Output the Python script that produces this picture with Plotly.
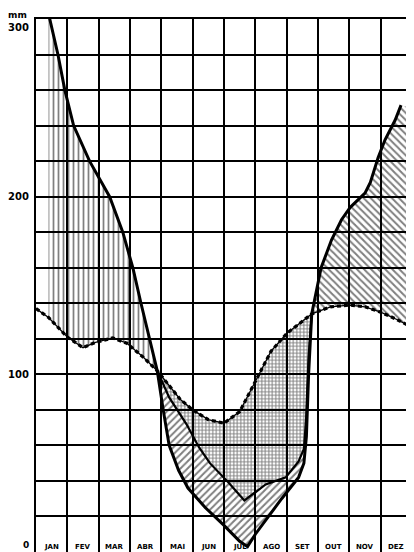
import plotly.graph_objects as go

# Month labels (Portuguese) and y-axis labels
months = ["JAN", "FEV", "MAR", "ABR", "MAI", "JUN", "JUL", "AGO", "SET", "OUT", "NOV", "DEZ"]
y_labels = [0, 100, 200, 300]

# Precipitation (thick solid line), x in months from start of January, y in mm
precip_x = [0.4, 0.44, 0.7, 0.92, 1.2, 1.71, 2.35, 2.77, 3.09, 3.35, 3.62, 3.87, 4.06, 4.25, 4.55,
            4.85, 5.4, 6.0, 6.5, 6.75, 7.0, 7.33, 7.84, 8.38, 8.55, 8.63, 8.7, 8.8, 8.96, 9.1,
            9.43, 9.75, 10.03, 10.5, 10.67, 10.92, 11.14, 11.46, 11.65]
precip_y = [303, 300, 280, 260, 240, 220, 200, 180, 160, 140, 120, 102, 80, 60, 46,
            36, 25, 15, 6, 3, 10, 18, 30, 42, 50, 65, 100, 134, 149, 160,
            175.6, 187, 194, 202, 208, 222, 232, 243, 251.5]

# Potential evapotranspiration (dashed line)
pet_x = [0, 0.4, 1.0, 1.5, 1.9, 2.45, 2.9, 3.4, 3.87, 4.25, 4.6, 5.0, 5.5, 6.0, 6.5, 7.0,
         7.5, 8.0, 8.5, 8.8, 9.4, 10.0, 10.5, 11.0, 11.5, 12.0]
pet_y = [137, 132, 121, 115, 118, 120.5, 117.5, 110, 102, 94, 86, 80, 74.5, 72.5, 79, 96,
         113, 123, 130, 134, 138, 139, 138, 135, 131, 126.5]

# Actual evapotranspiration (solid line)
aet_x = [3.87, 4.25, 4.8, 5.2, 5.55, 6.15, 6.65, 7.33, 7.97, 8.38, 8.55, 8.62, 8.7, 8.8]
aet_y = [102, 87, 72, 59, 50, 39, 29, 38, 42, 51, 58, 75, 110, 134]

# Where the recharge hatching meets the right edge in December
recharge_edge = (12.0, 250)


def seg(xs, ys, a, b):
    pts = [(x, y) for x, y in zip(xs, ys) if a - 1e-9 <= x <= b + 1e-9]
    return [p[0] for p in pts], [p[1] for p in pts]


def poly(upper, lower):
    ux, uy = upper
    lx, ly = lower
    return ux + lx[::-1], uy + ly[::-1]


fig = go.Figure()


def add_fill(px, py, shape, size, solidity):
    fig.add_trace(go.Scatter(
        x=px, y=py, mode="lines", fill="toself",
        line=dict(width=0, color="rgba(0,0,0,0)"),
        fillcolor="rgba(0,0,0,0)",
        fillpattern=dict(shape=shape, size=size, solidity=solidity,
                         fgcolor="black", bgcolor="rgba(0,0,0,0)"),
        hoverinfo="skip"))


# surplus: vertical hatching between precipitation and PET (Jan–Apr)
sx, sy = poly(seg(precip_x, precip_y, 0.4, 3.87), seg(pet_x, pet_y, 0.4, 3.87))
add_fill(sx, sy, "|", 5, 0.35)

# soil water utilization: between AET and precipitation
ux, uy = poly(seg(aet_x, aet_y, 3.87, 8.8), seg(precip_x, precip_y, 3.87, 8.8))
add_fill(ux, uy, "/", 5, 0.4)

# deficit: between PET and AET
dx, dy = poly(seg(pet_x, pet_y, 3.87, 8.8), seg(aet_x, aet_y, 3.87, 8.8))
add_fill(dx, dy, "+", 3.5, 0.5)

# recharge: between precipitation and PET (Set–Dez)
rpx, rpy = seg(precip_x, precip_y, 8.8, 12)
rpx = rpx + [recharge_edge[0]]
rpy = rpy + [recharge_edge[1]]
rx, ry = poly((rpx, rpy), seg(pet_x, pet_y, 8.8, 12))
add_fill(rx, ry, "\\", 5, 0.4)

# lines
fig.add_trace(go.Scatter(x=pet_x, y=pet_y, mode="lines",
                         line=dict(color="black", width=1.3), hoverinfo="skip"))
fig.add_trace(go.Scatter(x=pet_x, y=pet_y, mode="lines",
                         line=dict(color="black", width=3.2, dash="4px,3px"), hoverinfo="skip"))
fig.add_trace(go.Scatter(x=aet_x, y=aet_y, mode="lines",
                         line=dict(color="black", width=2.2), hoverinfo="skip"))
fig.add_trace(go.Scatter(x=precip_x, y=precip_y, mode="lines",
                         line=dict(color="black", width=3), hoverinfo="skip"))

annotations = []
for i, m in enumerate(months):
    annotations.append(dict(x=i + 0.5, y=2.6, xref="x", yref="y", text="<b>" + m + "</b>",
                            showarrow=False,
                            font=dict(family="DejaVu Sans", size=7, color="black"),
                            yanchor="middle", xanchor="center"))
label_y = {300: 295, 200: 200, 100: 100}
for v in y_labels:
    if v == 0:
        annotations.append(dict(x=-5 / 378, y=0, xref="paper", yref="paper",
                                text="<b>0</b>", showarrow=False,
                                xanchor="right", yanchor="bottom",
                                font=dict(family="DejaVu Sans", size=9, color="black")))
        continue
    annotations.append(dict(x=-5 / 378, y=label_y[v] / 300, xref="paper", yref="paper",
                            text="<b>" + str(v) + "</b>",
                            showarrow=False, xanchor="right", yanchor="middle",
                            font=dict(family="DejaVu Sans", size=10, color="black")))
annotations.append(dict(x=-7 / 378, y=1 + 4 / 533, xref="paper", yref="paper",
                        text="<b>mm</b>",
                        showarrow=False, xanchor="right", yanchor="middle",
                        font=dict(family="DejaVu Sans", size=9, color="black")))

# the page body has an 8px margin, so the figure is sized/offset to compensate
fig.update_layout(
    width=406, height=544,
    margin=dict(l=28, r=0, t=11, b=0),
    plot_bgcolor="white", paper_bgcolor="white",
    showlegend=False,
    annotations=annotations,
    xaxis=dict(range=[0, 12], tick0=0, dtick=1, showgrid=True, gridcolor="black",
               gridwidth=1.5, showticklabels=False, zeroline=False, showline=True,
               linecolor="black", linewidth=2, mirror=True, fixedrange=True),
    yaxis=dict(range=[0, 300], tick0=0, dtick=20, showgrid=True, gridcolor="black",
               gridwidth=1.5, showticklabels=False, zeroline=False, showline=True,
               linecolor="black", linewidth=2, mirror=True, fixedrange=True),
)

fig.write_html("out.html", config={"displayModeBar": False})
